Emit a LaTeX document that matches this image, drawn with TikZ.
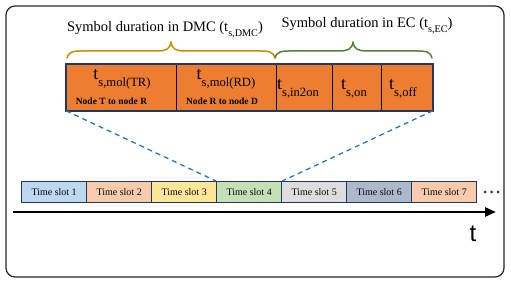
\documentclass[tikz,border=0pt]{standalone}
\usepackage{fontspec}
\setmainfont{Liberation Serif}
\newfontfamily\sansf{Liberation Sans}
\usetikzlibrary{arrows.meta}
\definecolor{orangeC}{HTML}{ED7D31}
\definecolor{navyC}{HTML}{1F3864}
\definecolor{slotA}{HTML}{BDD7EE}
\definecolor{slotB}{HTML}{F8CBAD}
\definecolor{slotC}{HTML}{FFE699}
\definecolor{slotD}{HTML}{C5E0B4}
\definecolor{slotE}{HTML}{DDDDDD}
\definecolor{slotF}{HTML}{ADB9CA}
\definecolor{goldC}{HTML}{BF9000}
\definecolor{greenC}{HTML}{548235}
\definecolor{dashC}{HTML}{2E75B6}
\newcommand{\tsub}[1]{t\raisebox{-6.5pt}{\fontsize{12.6}{13}\selectfont #1}}
\newcommand{\tsubs}[1]{t\raisebox{-4.5pt}{\fontsize{10.2}{11}\selectfont #1}}
\begin{document}
\begin{tikzpicture}[x=1pt,y=-1pt,
  cell/.style={draw=black, line width=0.8pt, fill=orangeC, minimum height=46pt, inner sep=0pt, anchor=north west},
  tlab/.style={font=\fontsize{18}{20}\selectfont, inner sep=0pt, anchor=base},
  nlab/.style={font=\fontsize{9.5}{11}\selectfont\bfseries, inner sep=0pt, anchor=base},
  slot/.style={draw=navyC, line width=1.3pt, minimum width=65pt, minimum height=21pt, inner sep=0pt, anchor=north west, font=\fontsize{10}{12}\selectfont, text=black!85!navyC},
  toplab/.style={font=\fontsize{14.5}{16}\selectfont, inner sep=0pt, anchor=base},
  bracepath/.style={line width=1.5pt, line cap=round, line join=round},
  dot/.style={circle, fill=black!80, inner sep=0pt, minimum size=3pt}
]
\useasboundingbox (0,0) rectangle (511,288);
\draw[line width=1.2pt, black!85, rounded corners=9pt] (6,6) rectangle (504,277);

% brace labels
\node[toplab] (ldmc) at (165,32) {Symbol duration in DMC (\tsubs{s,DMC})};
\node[toplab] (lec) at (367,28) {Symbol duration in EC (\tsubs{s,EC})};

% braces
\draw[bracepath, goldC] (67,58) .. controls (69,51) and (74,51) .. (82,51) -- (157,51) .. controls (166,51) and (170,49) .. (171,42) .. controls (172,49) and (176,51) .. (185,51) -- (260,51) .. controls (268,51) and (273,51) .. (275,58);
\draw[bracepath, greenC] (275,58) .. controls (277,51) and (282,51) .. (290,51) -- (339,51) .. controls (348,51) and (352,49) .. (353,42) .. controls (354,49) and (358,51) .. (367,51) -- (417,51) .. controls (425,51) and (430,51) .. (432,58);

% orange cells
\node[cell, minimum width=110pt] (c1) at (66,64) {};
\node[cell, minimum width=100pt] (c2) at (176,64) {};
\node[cell, minimum width=56pt] (c3) at (276,64) {};
\node[cell, minimum width=49pt] (c4) at (332,64) {};
\node[cell, minimum width=51pt] (c5) at (381,64) {};
\draw[navyC, line width=2pt] (c1.north west) rectangle (c5.south east);

\node[tlab] (t1) at (122,80) {\tsub{s,mol(TR)}};
\node[nlab] (n1) at (111.5,105) {Node T to node R};
\node[tlab] (t2) at (226,80) {\tsub{s,mol(RD)}};
\node[nlab] (n2) at (222,105) {Node R to node D};
\node[tlab] (t3) at (298,90) {\tsub{s,in2on}};
\node[tlab] (t4) at (354,90) {\tsub{s,on}};
\node[tlab] (t5) at (403,90) {\tsub{s,off}};

% time slots
\node[slot, fill=slotA] (s1) at (21,181) {Time slot 1};
\node[slot, fill=slotB] (s2) at (86,181) {Time slot 2};
\node[slot, fill=slotC] (s3) at (151,181) {Time slot 3};
\node[slot, fill=slotD] (s4) at (216,181) {Time slot 4};
\node[slot, fill=slotE] (s5) at (281,181) {Time slot 5};
\node[slot, fill=slotF] (s6) at (346,181) {Time slot 6};
\node[slot, fill=slotB] (s7) at (411,181) {Time slot 7};

\node[dot] (d1) at (485,192) {};
\node[dot] (d2) at (491.5,192) {};
\node[dot] (d3) at (498,192) {};

% zoom lines
\draw[dashC, line width=1.3pt, dash pattern=on 5pt off 4pt] (c1.south west) -- (s4.north west);
\draw[dashC, line width=1.3pt, dash pattern=on 5pt off 4pt] (c5.south east) -- (s4.north east);

% time axis
\coordinate (a0) at (13,212);
\coordinate (a1) at (496,212);
\draw[line width=2.6pt, -{Triangle[length=11pt,width=9pt]}] (a0) -- (a1);
\node[font=\sansf\fontsize{24}{26}\selectfont, inner sep=0pt, anchor=base] (tl) at (473,242) {t};
\end{tikzpicture}
\end{document}
